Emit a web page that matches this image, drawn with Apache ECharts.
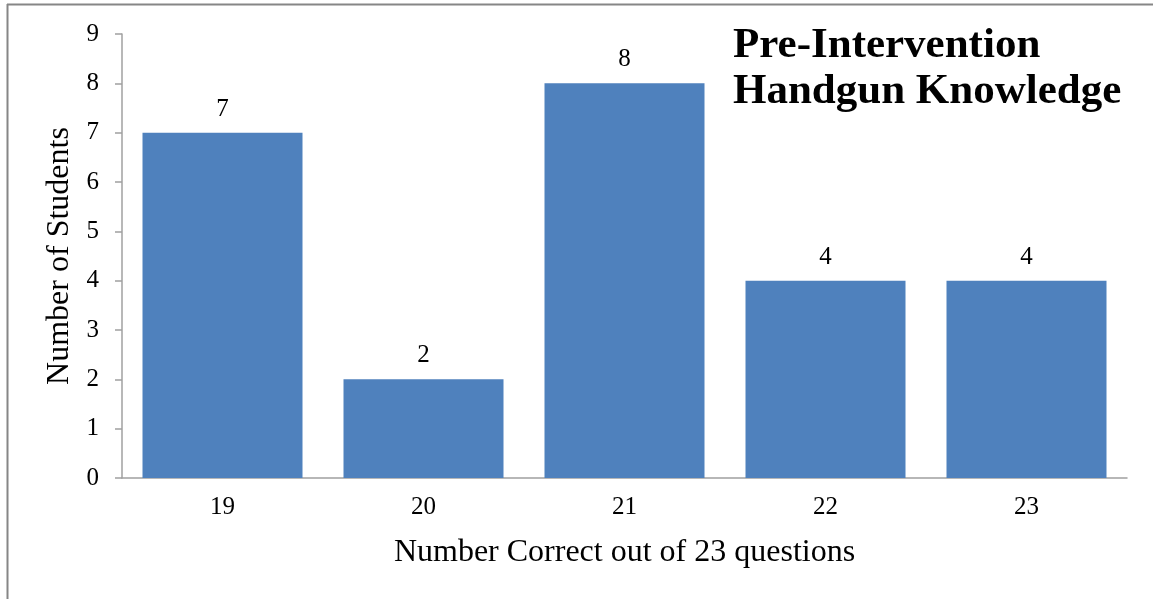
<!DOCTYPE html>
<html>
<head>
<meta charset="utf-8">
<script src="https://cdn.jsdelivr.net/npm/echarts@6/dist/echarts.min.js"></script>
<style>
  html, body { margin: 0; padding: 0; background: #fff; }
  #chart { width: 1153px; height: 599px; }
</style>
</head>
<body>
<div id="chart"></div>
<script>
// categories and values
var categories = ['19', '20', '21', '22', '23'];
var students = [7, 2, 8, 4, 4];
var yTicks = [0, 1, 2, 3, 4, 5, 6, 7, 8, 9];

var serif = '"Liberation Serif", "Times New Roman", serif';
var myChart = echarts.init(document.getElementById('chart'));

var option = {
  animation: false,
  backgroundColor: '#fff',
  title: {
    text: 'Pre-Intervention\nHandgun Knowledge',
    left: 728,
    top: 18,
    textStyle: {
      fontFamily: serif,
      fontWeight: 'bold',
      fontSize: 43,
      lineHeight: 46,
      color: '#000'
    }
  },
  graphic: [
    { type: 'line', shape: { x1: 7.5, y1: 4, x2: 7.5, y2: 599 }, style: { stroke: '#868686', lineWidth: 2 } },
    { type: 'line', shape: { x1: 7, y1: 4.5, x2: 1153, y2: 4.5 }, style: { stroke: '#868686', lineWidth: 2 } }
  ],
  grid: {
    left: 122,
    right: 26,
    top: 34,
    bottom: 121
  },
  xAxis: {
    type: 'category',
    data: categories,
    name: 'Number Correct out of 23 questions',
    nameLocation: 'middle',
    nameGap: 59,
    nameTextStyle: { fontFamily: serif, fontSize: 32, color: '#000' },
    axisLine: { lineStyle: { color: '#a0a0a0', width: 1.5 } },
    axisTick: { show: false },
    axisLabel: { fontFamily: serif, fontSize: 25, color: '#000', margin: 17 }
  },
  yAxis: {
    type: 'value',
    min: yTicks[0],
    max: yTicks[yTicks.length - 1],
    interval: 1,
    name: 'Number of Students',
    nameLocation: 'middle',
    nameGap: 43,
    nameTextStyle: { fontFamily: serif, fontSize: 32, color: '#000' },
    axisLine: { show: true, lineStyle: { color: '#a0a0a0', width: 1.5 } },
    axisTick: { show: true, inside: false, length: 7, lineStyle: { color: '#a0a0a0', width: 1.5 } },
    splitLine: { show: false },
    axisLabel: { fontFamily: serif, fontSize: 25, color: '#000', margin: 23 }
  },
  series: [{
    type: 'bar',
    data: students,
    barWidth: 160,
    itemStyle: { color: '#4f81bd' },
    label: {
      show: true,
      position: 'top',
      distance: 11,
      fontFamily: serif,
      fontSize: 25,
      color: '#000'
    }
  }]
};
myChart.setOption(option, true);
</script>
</body>
</html>
